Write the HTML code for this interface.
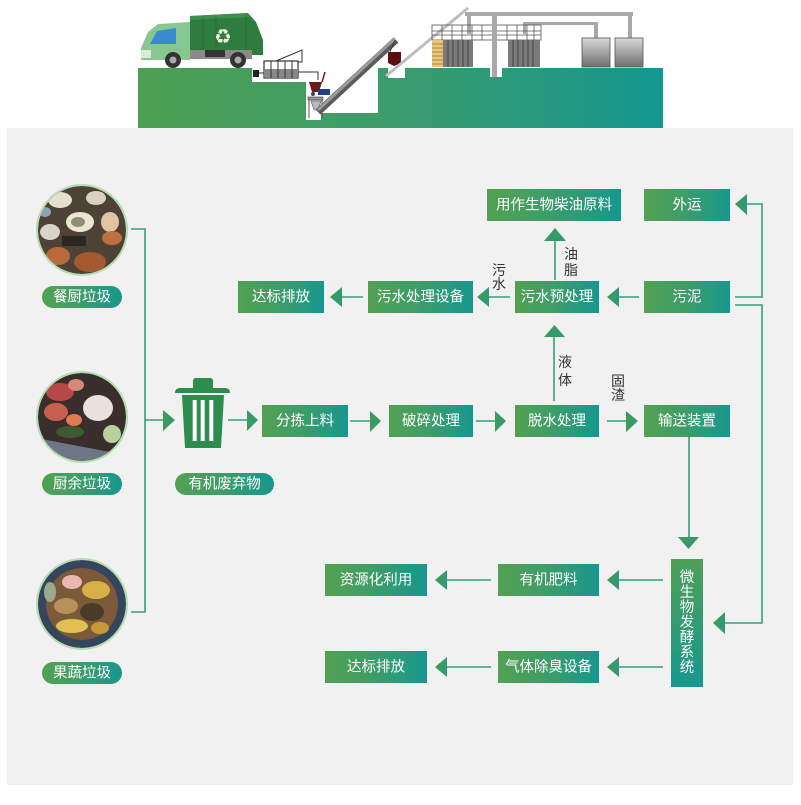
<!DOCTYPE html>
<html><head><meta charset="utf-8"><style>
html,body{margin:0;padding:0;background:#fff;}
svg{display:block;}
text{font-family:"Liberation Sans","Noto Sans CJK SC",sans-serif;}
</style></head><body>
<svg width="801" height="805" viewBox="0 0 801 805" xmlns="http://www.w3.org/2000/svg">
<defs>
<linearGradient id="band" x1="138" y1="0" x2="662" y2="0" gradientUnits="userSpaceOnUse">
<stop offset="0" stop-color="#4d9f52"/><stop offset="0.5" stop-color="#3a9c6c"/><stop offset="1" stop-color="#14978e"/>
</linearGradient>
<linearGradient id="bx" x1="0" y1="0" x2="1" y2="0">
<stop offset="0" stop-color="#53a152"/><stop offset="0.45" stop-color="#3f9d68"/><stop offset="1" stop-color="#17978e"/>
</linearGradient>
<linearGradient id="bxv" x1="0" y1="0" x2="0" y2="1">
<stop offset="0" stop-color="#4fa056"/><stop offset="1" stop-color="#17978e"/>
</linearGradient>
<linearGradient id="ah" x1="0" y1="0" x2="1" y2="0">
<stop offset="0" stop-color="#3f9a5a"/><stop offset="1" stop-color="#2f9a76"/>
</linearGradient>
<linearGradient id="tank" x1="0" y1="0" x2="0" y2="1">
<stop offset="0" stop-color="#d8d8d8"/><stop offset="1" stop-color="#6e6e6e"/>
</linearGradient>
<clipPath id="c1"><circle cx="82" cy="230" r="44"/></clipPath>
<clipPath id="c2"><circle cx="82" cy="417" r="44"/></clipPath>
<clipPath id="c3"><circle cx="82" cy="604" r="44"/></clipPath>
</defs>

<!-- gray panel -->
<rect x="7" y="128" width="786" height="657" fill="#f1f1f1"/>

<!-- ===== top illustration ===== -->
<path d="M138,68 H252 V82 H306 V120 H321 V113 H378 V68 H388 V78 H405 V68 H490 V77 H502 V68 H663 V128 H138 Z" fill="url(#band)"/>

<!-- truck -->
<path d="M190,16 L248,13 L256,22 L263,40 L263,55 L190,55 Z" fill="#2f7d3e"/>
<path d="M190,16 L248,13 L250,17 L190,20 Z" fill="#3d9050"/>
<line x1="203" y1="18" x2="203" y2="50" stroke="#266b33" stroke-width="1"/>
<line x1="216" y1="17" x2="216" y2="50" stroke="#266b33" stroke-width="1"/>
<line x1="246" y1="15" x2="246" y2="52" stroke="#266b33" stroke-width="1"/>
<text x="223" y="37" font-size="15" fill="#e8f2e8" text-anchor="middle" dominant-baseline="central">♻</text>
<path d="M141,48 L148,32 L158,24 L190,22 L190,60 L141,60 Z" fill="#86c890"/>
<path d="M150,44 L157,31 L176,28 L176,44 Z" fill="#3a8ad0"/>
<rect x="141" y="50" width="10" height="8" fill="#d8ecd8"/>
<rect x="190" y="50" width="62" height="9" fill="#8a8a8a"/>
<rect x="205" y="50" width="20" height="7" fill="#333"/>
<circle cx="173" cy="60" r="8" fill="#333"/><circle cx="173" cy="60" r="3.5" fill="#aaa"/>
<circle cx="238" cy="60" r="8" fill="#333"/><circle cx="238" cy="60" r="3.5" fill="#aaa"/>

<!-- screen machine -->
<rect x="253" y="70" width="6" height="7" fill="#222"/>
<line x1="259" y1="73" x2="264" y2="73" stroke="#333" stroke-width="1"/>
<rect x="264" y="61" width="34" height="17" fill="#fff" stroke="#333" stroke-width="1.2"/>
<rect x="265" y="69" width="32" height="8" fill="#888"/>
<line x1="271" y1="61" x2="271" y2="78" stroke="#333"/><line x1="278" y1="61" x2="278" y2="78" stroke="#333"/>
<line x1="285" y1="61" x2="285" y2="78" stroke="#333"/><line x1="292" y1="61" x2="292" y2="78" stroke="#333"/>
<polyline points="276,61 302,50 302,62 298,62" fill="none" stroke="#333" stroke-width="1"/>
<polyline points="298,72 318,72 318,80" fill="none" stroke="#333" stroke-width="1"/>
<!-- cart & hopper -->
<path d="M309,82 L322,82 L319,92 L312,92 Z" fill="#6a1a1a"/>
<line x1="322" y1="82" x2="325" y2="72" stroke="#6a1a1a" stroke-width="1.5"/>
<rect x="318" y="89" width="12" height="6" fill="#1f3f8a"/>
<circle cx="313" cy="94" r="2" fill="#444"/>
<rect x="308" y="97" width="15" height="3" fill="#999" stroke="#333" stroke-width="0.6"/>
<line x1="309" y1="100" x2="309" y2="118" stroke="#555" stroke-width="1"/>
<line x1="322" y1="100" x2="322" y2="118" stroke="#555" stroke-width="1"/>
<path d="M311,101 L321,101 L318,110 L314,110 Z" fill="#bbb" stroke="#555" stroke-width="0.6"/>
<!-- conveyor -->
<line x1="318" y1="112" x2="396" y2="40" stroke="#5a5a5a" stroke-width="7"/>
<line x1="318" y1="110" x2="395" y2="38.5" stroke="#9a9a9a" stroke-width="3"/>
<path d="M388,52 L401,52 L401,63 L394,66 L388,63 Z" fill="#5a1010"/>
<line x1="390" y1="52" x2="395" y2="40" stroke="#333" stroke-width="0.8"/>
<!-- second rod -->
<line x1="386" y1="76" x2="468" y2="8" stroke="#bdbdbd" stroke-width="3"/>
<!-- pipes -->
<rect x="465" y="12" width="168" height="4" fill="#a8a8a8"/>
<rect x="628" y="12" width="4" height="27" fill="#a8a8a8"/>
<rect x="523" y="22" width="75" height="3" fill="#a8a8a8"/>
<rect x="594" y="22" width="4" height="17" fill="#a8a8a8"/>
<rect x="467" y="12" width="4" height="22" fill="#a8a8a8"/>
<rect x="523" y="22" width="3" height="12" fill="#a8a8a8"/>
<!-- railing -->
<g stroke="#555" stroke-width="0.8" fill="none">
<rect x="432" y="25" width="109" height="15"/>
<line x1="432" y1="31" x2="541" y2="31"/><line x1="432" y1="35" x2="541" y2="35"/>
<line x1="442" y1="25" x2="442" y2="40"/><line x1="452" y1="25" x2="452" y2="40"/><line x1="462" y1="25" x2="462" y2="40"/>
<line x1="472" y1="25" x2="472" y2="40"/><line x1="482" y1="25" x2="482" y2="40"/><line x1="507" y1="25" x2="507" y2="40"/>
<line x1="517" y1="25" x2="517" y2="40"/><line x1="527" y1="25" x2="527" y2="40"/><line x1="534" y1="25" x2="534" y2="40"/>
</g>
<!-- stairs -->
<rect x="432" y="40" width="11" height="27" fill="#e8c878"/>
<g stroke="#9a7a30" stroke-width="0.8"><line x1="432" y1="44" x2="443" y2="44"/><line x1="432" y1="48" x2="443" y2="48"/><line x1="432" y1="52" x2="443" y2="52"/><line x1="432" y1="56" x2="443" y2="56"/><line x1="432" y1="60" x2="443" y2="60"/><line x1="432" y1="64" x2="443" y2="64"/></g>
<!-- panels -->
<rect x="443" y="40" width="30" height="27" fill="#7a7a7a"/>
<g stroke="#444" stroke-width="1"><line x1="448" y1="40" x2="448" y2="67"/><line x1="453" y1="40" x2="453" y2="67"/><line x1="458" y1="40" x2="458" y2="67"/><line x1="463" y1="40" x2="463" y2="67"/><line x1="468" y1="40" x2="468" y2="67"/></g>
<rect x="508" y="40" width="32" height="27" fill="#7a7a7a"/>
<g stroke="#444" stroke-width="1"><line x1="513" y1="40" x2="513" y2="67"/><line x1="518" y1="40" x2="518" y2="67"/><line x1="523" y1="40" x2="523" y2="67"/><line x1="528" y1="40" x2="528" y2="67"/><line x1="533" y1="40" x2="533" y2="67"/></g>
<!-- main column -->
<rect x="492" y="12" width="5" height="65" fill="#a8a8a8"/>
<!-- tanks -->
<rect x="582" y="38" width="28" height="29" fill="url(#tank)" stroke="#555" stroke-width="0.8"/>
<rect x="615" y="38" width="28" height="29" fill="url(#tank)" stroke="#555" stroke-width="0.8"/>

<!-- ===== left sources ===== -->
<!-- circle 1 -->
<g clip-path="url(#c1)">
<rect x="36" y="184" width="92" height="92" fill="#4e4236"/>
<ellipse cx="60" cy="200" rx="12" ry="8" fill="#e6dfcf"/>
<ellipse cx="96" cy="198" rx="10" ry="7" fill="#d9d2c2"/>
<ellipse cx="80" cy="222" rx="14" ry="10" fill="#ece5d3"/>
<ellipse cx="78" cy="222" rx="7" ry="5" fill="#8a9070"/>
<ellipse cx="50" cy="232" rx="10" ry="8" fill="#d8d4c8"/>
<ellipse cx="110" cy="222" rx="9" ry="10" fill="#e2c4a4"/>
<ellipse cx="112" cy="238" rx="10" ry="7" fill="#c07040"/>
<rect x="62" y="236" width="24" height="10" fill="#2a2622"/>
<ellipse cx="58" cy="256" rx="12" ry="9" fill="#b86a3a"/>
<ellipse cx="90" cy="262" rx="16" ry="10" fill="#a45a30"/>
<ellipse cx="45" cy="212" rx="6" ry="5" fill="#8fa0b8"/>
</g>
<circle cx="82" cy="230" r="45" fill="none" stroke="#b6dcb2" stroke-width="2"/>
<!-- circle 2 -->
<g clip-path="url(#c2)">
<rect x="36" y="371" width="92" height="92" fill="#3a2e2c"/>
<ellipse cx="60" cy="392" rx="14" ry="9" fill="#b84848"/>
<ellipse cx="76" cy="385" rx="8" ry="6" fill="#d88878"/>
<ellipse cx="98" cy="408" rx="15" ry="13" fill="#e8e2da"/>
<ellipse cx="56" cy="412" rx="12" ry="9" fill="#c86050"/>
<ellipse cx="74" cy="420" rx="8" ry="6" fill="#e07a50"/>
<ellipse cx="70" cy="432" rx="14" ry="6" fill="#3f5a30"/>
<path d="M36,438 L110,452 L110,470 L36,470 Z" fill="#6c7686"/>
<ellipse cx="112" cy="434" rx="9" ry="9" fill="#b8d0a0"/>
</g>
<circle cx="82" cy="417" r="45" fill="none" stroke="#b6dcb2" stroke-width="2"/>
<!-- circle 3 -->
<g clip-path="url(#c3)">
<rect x="36" y="558" width="92" height="92" fill="#34455c"/>
<ellipse cx="82" cy="604" rx="36" ry="36" fill="#7a5a38"/>
<ellipse cx="72" cy="582" rx="10" ry="7" fill="#e8b8b0"/>
<ellipse cx="96" cy="590" rx="14" ry="9" fill="#d8b048"/>
<ellipse cx="66" cy="606" rx="12" ry="8" fill="#b8905a"/>
<ellipse cx="92" cy="612" rx="12" ry="9" fill="#4a3a28"/>
<ellipse cx="72" cy="626" rx="16" ry="7" fill="#e0c050"/>
<ellipse cx="100" cy="628" rx="9" ry="6" fill="#c89838"/>
<ellipse cx="50" cy="592" rx="6" ry="10" fill="#9aa890"/>
</g>
<circle cx="82" cy="604" r="45" fill="none" stroke="#b6dcb2" stroke-width="2"/>

<!-- pills -->
<g font-size="14.5" fill="#fff" text-anchor="middle" dominant-baseline="central">
<rect x="42" y="286" width="80" height="22" rx="11" fill="url(#bx)"/><text x="82" y="297.5">餐厨垃圾</text>
<rect x="42" y="473" width="80" height="22" rx="11" fill="url(#bx)"/><text x="82" y="484.5">厨余垃圾</text>
<rect x="42" y="662" width="80" height="22" rx="11" fill="url(#bx)"/><text x="82" y="673.5">果蔬垃圾</text>
<rect x="175" y="473" width="99" height="22" rx="11" fill="url(#bx)"/><text x="224.5" y="484.5">有机废弃物</text>
</g>

<!-- trash can -->
<g fill="#2e8c4e">
<path d="M193,381 Q193,378 196,378 L210,378 Q213,378 213,381 L213,388 L193,388 Z"/>
<path d="M175,393 Q175,388 180,388 L225,388 Q230,388 230,393 Z"/>
<path d="M182,395 L224,395 L221,448 L185,448 Z"/>
</g>
<g fill="#fff">
<rect x="192.7" y="400" width="4" height="41"/>
<rect x="200.7" y="400" width="4" height="41"/>
<rect x="209.3" y="400" width="4" height="41"/>
</g>

<!-- ===== connectors ===== -->
<g stroke="#33a07e" stroke-width="1.6" fill="none">
<polyline points="131,229 145,229 145,612 131,612"/>
<line x1="145" y1="420" x2="164" y2="420"/>
<line x1="228" y1="420" x2="248" y2="420"/>
<line x1="350" y1="421" x2="371" y2="421"/>
<line x1="476" y1="421" x2="496" y2="421"/>
<line x1="607" y1="421" x2="627" y2="421"/>
<line x1="689" y1="437" x2="689" y2="538"/>
<line x1="554" y1="401" x2="554" y2="336"/>
<line x1="555" y1="280" x2="555" y2="241"/>
<line x1="617" y1="297" x2="639" y2="297"/>
<line x1="488" y1="297" x2="510" y2="297"/>
<line x1="341" y1="297" x2="363" y2="297"/>
<polyline points="735,297 762,297 762,204 746,204"/>
<polyline points="735,305 762,305 762,623 724,623"/>
<line x1="617" y1="580" x2="663" y2="580"/>
<line x1="446" y1="580" x2="491" y2="580"/>
<line x1="617" y1="667" x2="663" y2="667"/>
<line x1="446" y1="667" x2="491" y2="667"/>
</g>
<g fill="url(#ah)">
<!-- right-pointing -->
<polygon points="163,410 175,420 163,431"/>
<polygon points="247,410 258,420 247,431"/>
<polygon points="370,411 381,421 370,432"/>
<polygon points="495,411 506,421 495,432"/>
<polygon points="626,411 638,421 626,432"/>
<!-- left-pointing -->
<polygon points="619,287 607,297 619,307"/>
<polygon points="489,287 477,297 489,307"/>
<polygon points="342,287 330,297 342,307"/>
<polygon points="747,194 735,204 747,215"/>
<polygon points="725,612 713,623 725,634"/>
<polygon points="619,570 607,580 619,590"/>
<polygon points="447,570 435,580 447,590"/>
<polygon points="619,657 607,667 619,677"/>
<polygon points="447,657 435,667 447,677"/>
<!-- up / down -->
<polygon points="544,337 554.5,325 565,337"/>
<polygon points="544,241 555,228 566,241"/>
<polygon points="678,537 699,537 688.5,549"/>
</g>

<!-- ===== boxes ===== -->
<g font-size="14.5" fill="#fff" text-anchor="middle" dominant-baseline="central">
<rect x="487" y="189" width="134" height="32" fill="url(#bx)"/><text x="554" y="205.5">用作生物柴油原料</text>
<rect x="644" y="189" width="86" height="32" fill="url(#bx)"/><text x="687" y="205.5">外运</text>
<rect x="238" y="281" width="86" height="32" fill="url(#bx)"/><text x="281" y="297.5">达标排放</text>
<rect x="368" y="281" width="105" height="32" fill="url(#bx)"/><text x="420.5" y="297.5">污水处理设备</text>
<rect x="515" y="281" width="84" height="32" fill="url(#bx)"/><text x="557" y="297.5">污水预处理</text>
<rect x="644" y="281" width="86" height="32" fill="url(#bx)"/><text x="687" y="297.5">污泥</text>
<rect x="262" y="405" width="86" height="32" fill="url(#bx)"/><text x="305" y="421.5">分拣上料</text>
<rect x="389" y="405" width="84" height="32" fill="url(#bx)"/><text x="431" y="421.5">破碎处理</text>
<rect x="515" y="405" width="84" height="32" fill="url(#bx)"/><text x="557" y="421.5">脱水处理</text>
<rect x="644" y="405" width="86" height="32" fill="url(#bx)"/><text x="687" y="421.5">输送装置</text>
<rect x="498" y="564" width="101" height="32" fill="url(#bx)"/><text x="548.5" y="580.5">有机肥料</text>
<rect x="325" y="564" width="102" height="32" fill="url(#bx)"/><text x="376" y="580.5">资源化利用</text>
<rect x="498" y="651" width="101" height="32" fill="url(#bx)"/><text x="548.5" y="667.5">气体除臭设备</text>
<rect x="325" y="651" width="102" height="32" fill="url(#bx)"/><text x="376" y="667.5">达标排放</text>
<rect x="671" y="559" width="32" height="128" fill="url(#bxv)"/>
<text x="687" y="578">微</text><text x="687" y="593">生</text><text x="687" y="608">物</text><text x="687" y="623">发</text><text x="687" y="638">酵</text><text x="687" y="653">系</text><text x="687" y="668">统</text>
</g>

<!-- small labels -->
<g font-size="14" fill="#333" text-anchor="middle" dominant-baseline="central">
<text x="499" y="270">污</text><text x="499" y="284">水</text>
<text x="571" y="254">油</text><text x="571" y="270">脂</text>
<text x="565" y="362">液</text><text x="565" y="380">体</text>
<text x="618" y="381">固</text><text x="618" y="395">渣</text>
</g>
</svg>
</body></html>
